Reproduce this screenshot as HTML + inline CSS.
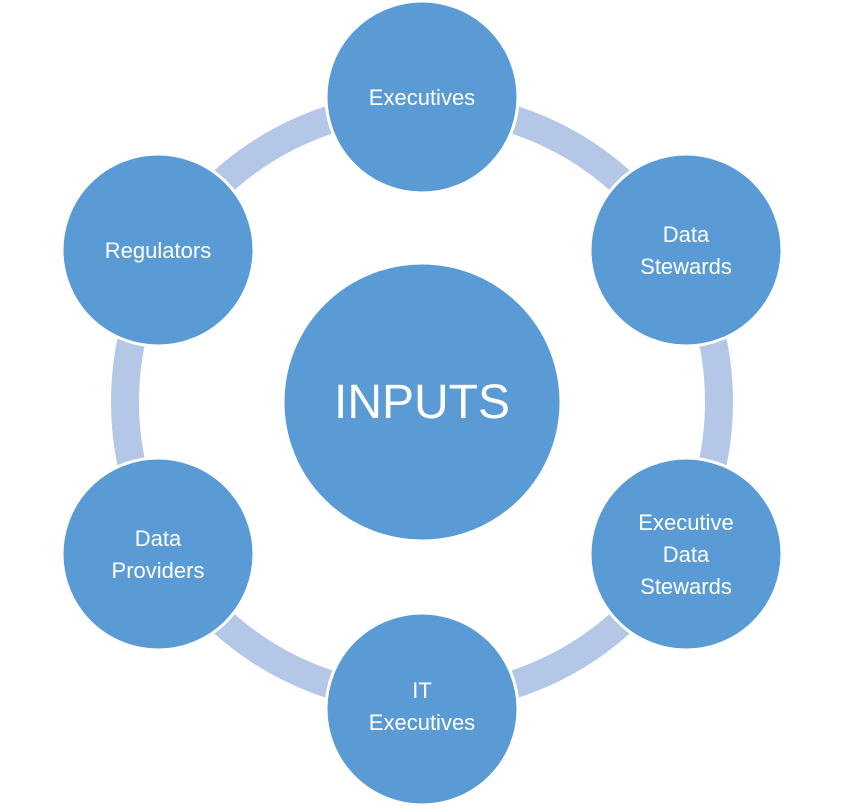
<!DOCTYPE html>
<html><head><meta charset="utf-8"><style>body{margin:0;background:#fff}svg{display:block}</style></head>
<body>
<svg width="844" height="806" viewBox="0 0 844 806" xmlns="http://www.w3.org/2000/svg" font-family="'Liberation Sans', sans-serif" fill="#fff">
<circle cx="422" cy="402" r="297" fill="none" stroke="#b4c7e7" stroke-width="28"/>
<g fill="#5b9bd5" stroke="#fff" stroke-width="3">
<circle cx="422" cy="402" r="139"/>
<circle cx="422" cy="97" r="96"/>
<circle cx="686" cy="250" r="96"/>
<circle cx="686" cy="554" r="96"/>
<circle cx="422" cy="709" r="96"/>
<circle cx="158" cy="554" r="96"/>
<circle cx="158" cy="250" r="96"/>
</g>
<g font-size="22" text-anchor="middle" fill="#fff">
<text x="422" y="105">Executives</text>
<text x="686" y="242">Data</text><text x="686" y="274">Stewards</text>
<text x="686" y="530">Executive</text><text x="686" y="562">Data</text><text x="686" y="594">Stewards</text>
<text x="422" y="698">IT</text><text x="422" y="730">Executives</text>
<text x="158" y="546">Data</text><text x="158" y="578">Providers</text>
<text x="158" y="258">Regulators</text>
<text x="422" y="418" font-size="48">INPUTS</text>
</g>
</svg>
</body></html>
